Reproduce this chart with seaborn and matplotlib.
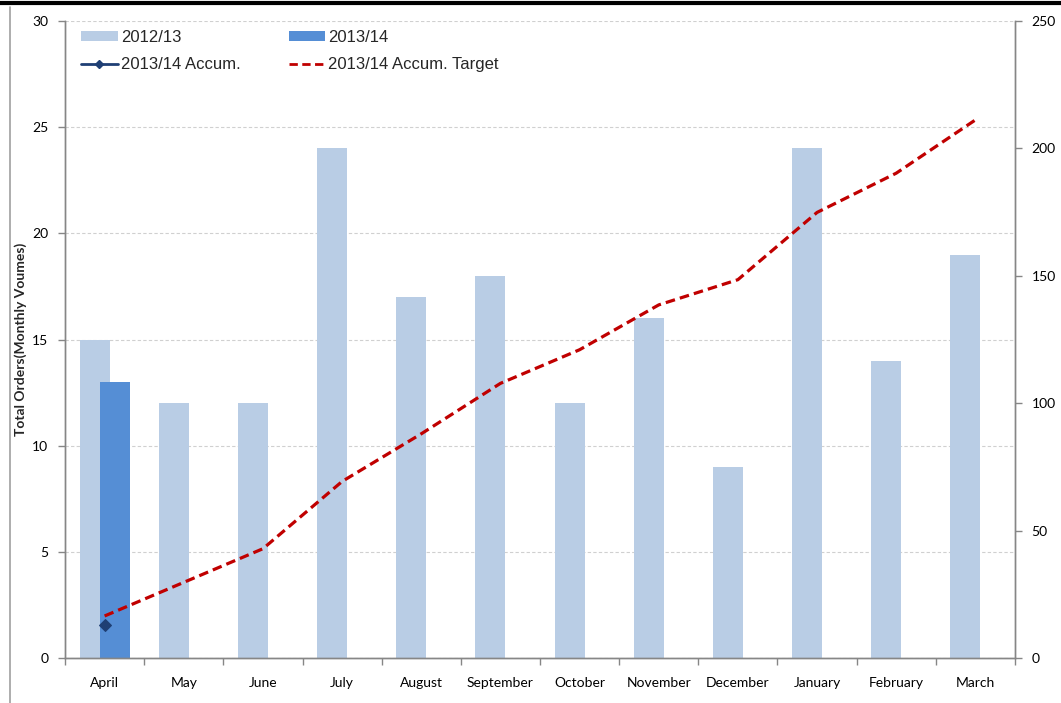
import numpy as np
import seaborn as sns
import matplotlib.pyplot as plt
from matplotlib.lines import Line2D
from matplotlib.patches import Patch

months = ['April', 'May', 'June', 'July', 'August', 'September', 'October',
          'November', 'December', 'January', 'February', 'March']
orders_1213 = [15, 12, 12, 24, 17, 18, 12, 16, 9, 24, 14, 19]
months_1314 = ['April']
orders_1314 = [13]
accum_1314 = [13]
accum_target = [16.5, 29.7, 42.9, 69.3, 88.0, 107.8, 121.0, 138.6, 148.5, 174.9, 190.3, 211.2]

c_1213 = '#B9CDE5'
c_1314 = '#558ED5'
c_accum = '#1F3F74'
c_target = '#C00000'
grey = '#868686'

sns.set_theme(style='white')
plt.rcParams['font.family'] = ['Lato', 'DejaVu Sans']

fig, ax = plt.subplots(figsize=(10.61, 7.03), dpi=100)
fig.subplots_adjust(left=0.0613, right=0.9566, bottom=0.064, top=0.970)

bw = 0.38
shift = 0.126
sns.barplot(x=months, y=orders_1213, order=months, color=c_1213, width=bw,
            saturation=1, linewidth=0, ax=ax)
n0 = len(ax.patches)
for p in ax.patches[:n0]:
    p.set_x(p.get_x() - shift)
sns.barplot(x=months_1314, y=orders_1314, order=months, color=c_1314, width=bw,
            saturation=1, linewidth=0, ax=ax)
for p in ax.patches[n0:]:
    p.set_x(p.get_x() + shift)

ax.set_xlim(-0.5, len(months) - 0.5)
ax.set_ylim(0, 30)
ax.set_yticks(range(0, 31, 5))
ax.yaxis.grid(True, color='#D0D0D0', linestyle=(0, (3, 2)), linewidth=0.8)
ax.set_axisbelow(True)
ax.set_xlabel('')
ax.set_ylabel('Total Orders(Monthly Voumes)', fontsize=10, fontweight='bold')
ax.yaxis.set_label_coords(-0.040, 0.5)

# category boundary ticks like Excel
ax.set_xticks(np.arange(-0.5, len(months), 1.0), minor=True)
ax.tick_params(axis='x', which='major', length=0, pad=14, labelsize=10, colors='black')
ax.tick_params(axis='x', which='minor', length=5, color=grey, width=1, direction='out', bottom=True)
ax.tick_params(axis='y', length=5, color=grey, width=1, direction='out', left=True,
               labelsize=10, pad=7, colors='black')

ax.spines['top'].set_visible(False)
for s in ['left', 'bottom', 'right']:
    ax.spines[s].set_color(grey)
    ax.spines[s].set_linewidth(1)

ax2 = ax.twinx()
xpos = np.arange(len(months))
sns.lineplot(x=xpos, y=accum_target, color=c_target, linestyle=(0, (3, 1.6)),
             linewidth=2.3, ax=ax2)
sns.lineplot(x=xpos[:len(accum_1314)], y=accum_1314, color=c_accum, marker='D',
             markersize=6, markeredgecolor=c_accum, linewidth=2, ax=ax2)
ax2.set_ylim(0, 250)
ax2.set_yticks(range(0, 251, 50))
ax2.set_xlim(-0.5, len(months) - 0.5)
ax2.tick_params(axis='y', length=5, color=grey, width=1, direction='out', right=True,
                labelsize=10, pad=7, colors='black')
ax2.spines['top'].set_visible(False)
for s in ['left', 'bottom', 'right']:
    ax2.spines[s].set_color(grey)
    ax2.spines[s].set_linewidth(1)
ax2.grid(False)

handles = [
    Patch(facecolor=c_1213, edgecolor='none'),
    Line2D([], [], color=c_accum, marker='D', markersize=4, linewidth=2),
    Patch(facecolor=c_1314, edgecolor='none'),
    Line2D([], [], color=c_target, linestyle=(0, (3, 1.6)), linewidth=2),
]
labels = ['2012/13', '2013/14 Accum.', '2013/14', '2013/14 Accum. Target']
leg = ax2.legend(handles, labels, ncol=2, loc='upper left', bbox_to_anchor=(0.001, 1.009),
                 frameon=False, handlelength=2.2, handleheight=0.55, handletextpad=0.18,
                 columnspacing=2.9, labelspacing=0.7,
                 prop={'family': 'Liberation Sans', 'size': 12})

# chart frame
fig.add_artist(Line2D([0, 1], [0.9955, 0.9955], color='black', linewidth=3,
                      transform=fig.transFigure))
fig.add_artist(Line2D([0.0094, 0.0094], [0, 0.99], color='#A0A0A0', linewidth=1.2,
                      transform=fig.transFigure))

fig.savefig('out.png', dpi=100)
